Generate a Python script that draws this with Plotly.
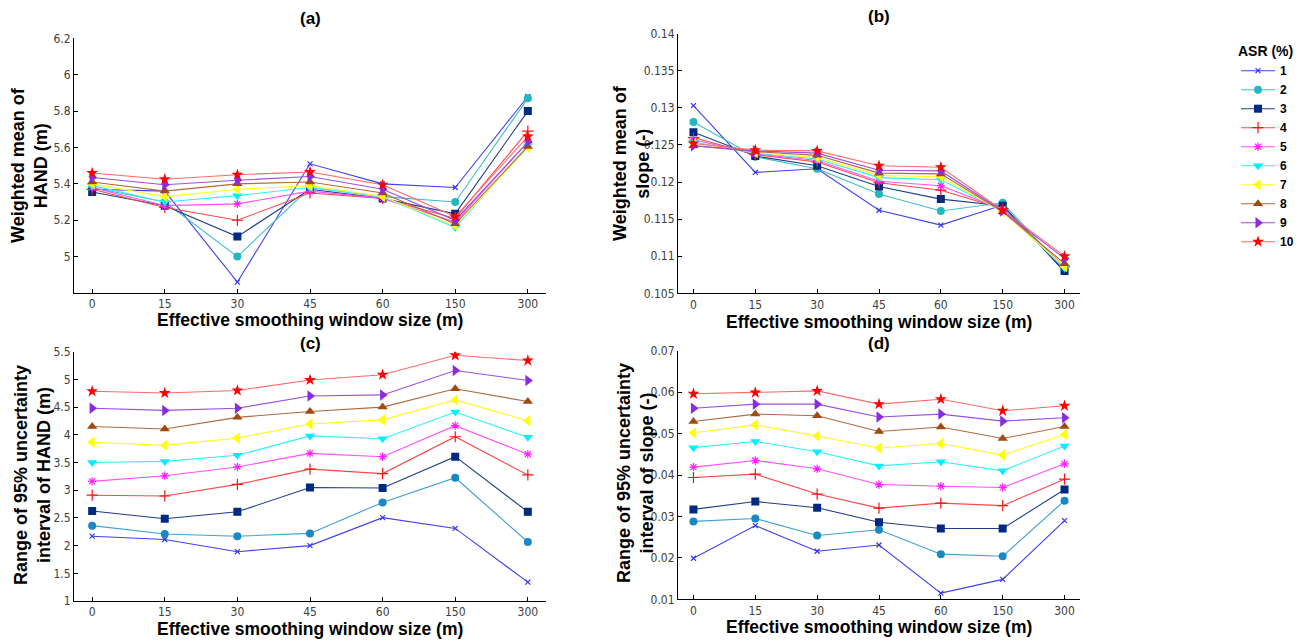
import plotly.graph_objects as go

# ---------------- data ----------------
window_sizes = ["0", "15", "30", "45", "60", "150", "300"]
asr_labels = ["1", "2", "3", "4", "5", "6", "7", "8", "9", "10"]

# (a) Weighted mean of HAND (m), one row per ASR (%)
hand_mean_asr1 = [5.37, 5.36, 4.86, 5.51, 5.40, 5.38, 5.88]
hand_mean_asr2 = [5.38, 5.30, 5.00, 5.38, 5.33, 5.30, 5.87]
hand_mean_asr3 = [5.355, 5.28, 5.11, 5.37, 5.32, 5.235, 5.80]
hand_mean_asr4 = [5.37, 5.27, 5.20, 5.35, 5.32, 5.21, 5.69]
hand_mean_asr5 = [5.38, 5.28, 5.29, 5.36, 5.32, 5.19, 5.63]
hand_mean_asr6 = [5.39, 5.30, 5.335, 5.38, 5.33, 5.16, 5.61]
hand_mean_asr7 = [5.40, 5.33, 5.37, 5.39, 5.33, 5.17, 5.60]
hand_mean_asr8 = [5.41, 5.36, 5.40, 5.41, 5.35, 5.18, 5.605]
hand_mean_asr9 = [5.435, 5.395, 5.42, 5.44, 5.37, 5.20, 5.63]
hand_mean_asr10 = [5.46, 5.425, 5.45, 5.465, 5.395, 5.22, 5.66]

# (b) Weighted mean of slope (-)
slope_mean_asr1 = [0.1303, 0.1213, 0.1218, 0.1162, 0.1142, 0.1169, 0.1079]
slope_mean_asr2 = [0.1281, 0.1234, 0.1218, 0.1184, 0.1161, 0.1172, 0.1082]
slope_mean_asr3 = [0.1267, 0.1235, 0.1222, 0.1194, 0.1177, 0.1168, 0.1080]
slope_mean_asr4 = [0.1260, 0.1237, 0.1227, 0.1199, 0.1189, 0.1164, 0.1086]
slope_mean_asr5 = [0.1257, 0.1238, 0.1229, 0.1201, 0.1195, 0.1163, 0.1085]
slope_mean_asr6 = [0.1254, 0.1239, 0.1231, 0.1206, 0.1203, 0.1161, 0.1084]
slope_mean_asr7 = [0.1252, 0.1240, 0.1233, 0.1209, 0.1207, 0.1160, 0.1086]
slope_mean_asr8 = [0.1249, 0.1241, 0.1236, 0.1212, 0.1211, 0.1160, 0.1090]
slope_mean_asr9 = [0.1249, 0.1242, 0.1239, 0.1216, 0.1215, 0.1161, 0.1097]
slope_mean_asr10 = [0.1252, 0.1243, 0.1242, 0.1222, 0.1220, 0.1162, 0.1100]

# (c) Range of 95% uncertainty interval of HAND (m)
hand_range_asr1 = [2.17, 2.11, 1.89, 2.00, 2.505, 2.31, 1.34]
hand_range_asr2 = [2.36, 2.21, 2.17, 2.22, 2.78, 3.225, 2.065]
hand_range_asr3 = [2.625, 2.485, 2.61, 3.05, 3.04, 3.605, 2.61]
hand_range_asr4 = [2.91, 2.895, 3.105, 3.38, 3.30, 3.965, 3.275]
hand_range_asr5 = [3.16, 3.26, 3.42, 3.665, 3.605, 4.165, 3.65]
hand_range_asr6 = [3.50, 3.52, 3.63, 3.98, 3.93, 4.41, 3.955]
hand_range_asr7 = [3.865, 3.81, 3.94, 4.195, 4.27, 4.63, 4.255]
hand_range_asr8 = [4.15, 4.105, 4.315, 4.42, 4.50, 4.83, 4.60]
hand_range_asr9 = [4.48, 4.44, 4.48, 4.70, 4.72, 5.16, 4.98]
hand_range_asr10 = [4.785, 4.755, 4.80, 4.99, 5.085, 5.435, 5.34]

# (d) Range of 95% uncertainty interval of slope (-)
slope_range_asr1 = [0.0199, 0.0278, 0.0216, 0.0231, 0.0115, 0.0148, 0.0290]
slope_range_asr2 = [0.0288, 0.0295, 0.0254, 0.0268, 0.0209, 0.0204, 0.0338]
slope_range_asr3 = [0.0317, 0.0336, 0.0321, 0.0286, 0.0271, 0.0271, 0.0365]
slope_range_asr4 = [0.0394, 0.0402, 0.0354, 0.0320, 0.0332, 0.0326, 0.0390]
slope_range_asr5 = [0.0419, 0.0435, 0.0415, 0.0377, 0.0373, 0.0370, 0.0427]
slope_range_asr6 = [0.0466, 0.0481, 0.0456, 0.0422, 0.0432, 0.0410, 0.0470]
slope_range_asr7 = [0.0502, 0.0521, 0.0494, 0.0465, 0.0476, 0.0448, 0.0498]
slope_range_asr8 = [0.0529, 0.0547, 0.0543, 0.0505, 0.0516, 0.0488, 0.0517]
slope_range_asr9 = [0.0561, 0.0571, 0.0571, 0.0540, 0.0547, 0.0530, 0.0538]
slope_range_asr10 = [0.0596, 0.0599, 0.0603, 0.0571, 0.0583, 0.0555, 0.0567]

hand_mean = [hand_mean_asr1, hand_mean_asr2, hand_mean_asr3, hand_mean_asr4, hand_mean_asr5,
             hand_mean_asr6, hand_mean_asr7, hand_mean_asr8, hand_mean_asr9, hand_mean_asr10]
slope_mean = [slope_mean_asr1, slope_mean_asr2, slope_mean_asr3, slope_mean_asr4, slope_mean_asr5,
              slope_mean_asr6, slope_mean_asr7, slope_mean_asr8, slope_mean_asr9, slope_mean_asr10]
hand_range = [hand_range_asr1, hand_range_asr2, hand_range_asr3, hand_range_asr4, hand_range_asr5,
              hand_range_asr6, hand_range_asr7, hand_range_asr8, hand_range_asr9, hand_range_asr10]
slope_range = [slope_range_asr1, slope_range_asr2, slope_range_asr3, slope_range_asr4, slope_range_asr5,
               slope_range_asr6, slope_range_asr7, slope_range_asr8, slope_range_asr9, slope_range_asr10]

# ---------------- styles ----------------
marker_colors = ["#3333ee", "#22b8c0", "#002a80", "#ff1010", "#ff20ff",
                 "#00f0ff", "#ffff00", "#a04a10", "#8a2be2", "#ff0000"]
marker_colors_cd = ["#3333ee", "#1a88c4", "#002a80", "#ff1010", "#ff20ff",
                    "#00f0ff", "#ffff00", "#a04a10", "#8a2be2", "#ff0000"]
line_colors = ["#4040f0", "#40c0c8", "#203c8c", "#ff4848", "#ff50ff",
               "#30f0f8", "#ffff20", "#b06a40", "#9a50e0", "#ff6a6a"]
line_colors_cd = ["#4040f0", "#40a0d0", "#203c8c", "#ff4848", "#ff50ff",
                  "#30f0f8", "#ffff20", "#b06a40", "#9a50e0", "#ff6a6a"]
symbols = ["x-thin-open", "circle", "square", "cross-thin-open", "asterisk-open",
           "triangle-down", "triangle-left", "triangle-up", "triangle-right", "star"]
sizes = [5, 8, 8, 8, 7, 9, 10, 9, 10, 9]

W, H = 1306, 642

def xd(a, b):
    return [a / W, b / W]

def yd(top, bottom):
    return [1 - bottom / H, 1 - top / H]

fig = go.Figure()

panels = [
    (hand_mean, "x", "y", False),
    (slope_mean, "x2", "y2", True),
    (hand_range, "x3", "y3", False),
    (slope_range, "x4", "y4", False),
]

for pi, (data, xa, ya, show) in enumerate(panels):
    mcol = marker_colors if pi < 2 else marker_colors_cd
    lcol = line_colors if pi < 2 else line_colors_cd
    for i, vals in enumerate(data):
        thin = symbols[i].endswith("-open")
        fig.add_trace(go.Scatter(
            x=window_sizes, y=vals, xaxis=xa, yaxis=ya,
            mode="lines+markers", name=asr_labels[i],
            legendgroup=asr_labels[i], showlegend=show,
            line=dict(color=lcol[i], width=1.1),
            marker=dict(symbol=symbols[i], size=sizes[i], color=mcol[i],
                        line=dict(color=mcol[i], width=1.2 if thin else 0)),
        ))

tickfont = dict(family="DejaVu Sans Condensed, Liberation Sans Narrow, Arial Narrow, sans-serif",
                size=12, color="#404040")
xcommon = dict(type="category", categoryorder="array", categoryarray=window_sizes,
               range=[-0.25, 6.25], showline=True, linecolor="black", linewidth=1,
               ticks="inside", ticklen=4, tickcolor="black", showgrid=False,
               zeroline=False, tickfont=tickfont, fixedrange=True, automargin=False)
ycommon = dict(showline=True, linecolor="black", linewidth=1, ticks="inside",
               ticklen=4, tickcolor="black", showgrid=False, zeroline=False,
               tickfont=tickfont, fixedrange=True, automargin=False)

fig.update_layout(
    width=W, height=H,
    margin=dict(l=0, r=0, t=0, b=0, autoexpand=False),
    paper_bgcolor="white", plot_bgcolor="white",
    xaxis=dict(domain=xd(74, 546), anchor="y", **xcommon),
    yaxis=dict(domain=yd(38.3, 293), anchor="x", range=[4.8, 6.2],
               tickvals=[5, 5.2, 5.4, 5.6, 5.8, 6, 6.2],
               ticktext=["5", "5.2", "5.4", "5.6", "5.8", "6", "6.2"], **ycommon),
    xaxis2=dict(domain=xd(678, 1080), anchor="y2", **xcommon),
    yaxis2=dict(domain=yd(33.7, 293.3), anchor="x2", range=[0.105, 0.14],
                tickvals=[0.105, 0.11, 0.115, 0.12, 0.125, 0.13, 0.135, 0.14],
                ticktext=["0.105", "0.11", "0.115", "0.12", "0.125", "0.13", "0.135", "0.14"],
                **ycommon),
    xaxis3=dict(domain=xd(74, 546), anchor="y3", **xcommon),
    yaxis3=dict(domain=yd(351.7, 601), anchor="x3", range=[1, 5.5],
                tickvals=[1, 1.5, 2, 2.5, 3, 3.5, 4, 4.5, 5, 5.5],
                ticktext=["1", "1.5", "2", "2.5", "3", "3.5", "4", "4.5", "5", "5.5"],
                **ycommon),
    xaxis4=dict(domain=xd(678, 1080), anchor="y4", **xcommon),
    yaxis4=dict(domain=yd(350.7, 599.3), anchor="x4", range=[0.01, 0.07],
                tickvals=[0.01, 0.02, 0.03, 0.04, 0.05, 0.06, 0.07],
                ticktext=["0.01", "0.02", "0.03", "0.04", "0.05", "0.06", "0.07"],
                **ycommon),
    legend=dict(
        x=1236 / W, y=1 - 38 / H, xanchor="left", yanchor="top",
        title=dict(text="<b>ASR (%)</b>", side="top",
                   font=dict(family="Liberation Sans, Arial, sans-serif", size=14, color="black")),
        font=dict(family="Liberation Sans, Arial, sans-serif", size=12, color="black",
                  weight="bold"),
        bgcolor="rgba(0,0,0,0)", borderwidth=0, itemwidth=34,
        tracegroupgap=0,
    ),
)

bold = "Liberation Sans, Arial, sans-serif"
ann = []

def text(x, y, s, size=18, angle=0):
    ann.append(dict(x=x / W, y=1 - y / H, xref="paper", yref="paper", text=s,
                    showarrow=False, textangle=angle, xanchor="center", yanchor="middle",
                    font=dict(family=bold, size=size, color="black")))

# panel titles
text(310, 18, "<b>(a)</b>", 17)
text(879, 17, "<b>(b)</b>", 17)
text(310, 343, "<b>(c)</b>", 17)
text(879, 343, "<b>(d)</b>", 17)
# x-axis titles
xt = "<b>Effective smoothing window size (m)</b>"
text(310, 320, xt, 17.5)
text(879, 322, xt, 17.5)
text(310, 629, xt, 17.5)
text(879, 627, xt, 17.5)
# y-axis titles
text(30, 165, "<b>Weighted mean of<br>HAND (m)</b>", 18, -90)
text(632, 163, "<b>Weighted mean of<br>slope (-)</b>", 18, -90)
text(32, 475, "<b>Range of 95% uncertainty<br>interval of HAND (m)</b>", 18, -90)
text(635, 473, "<b>Range of 95% uncertainty<br>interval of slope (-)</b>", 18, -90)

fig.update_layout(annotations=ann)

fig.write_html(
    "out.html",
    config={"displayModeBar": False},
    post_script="document.body.style.margin='0';document.body.style.padding='0';",
)
